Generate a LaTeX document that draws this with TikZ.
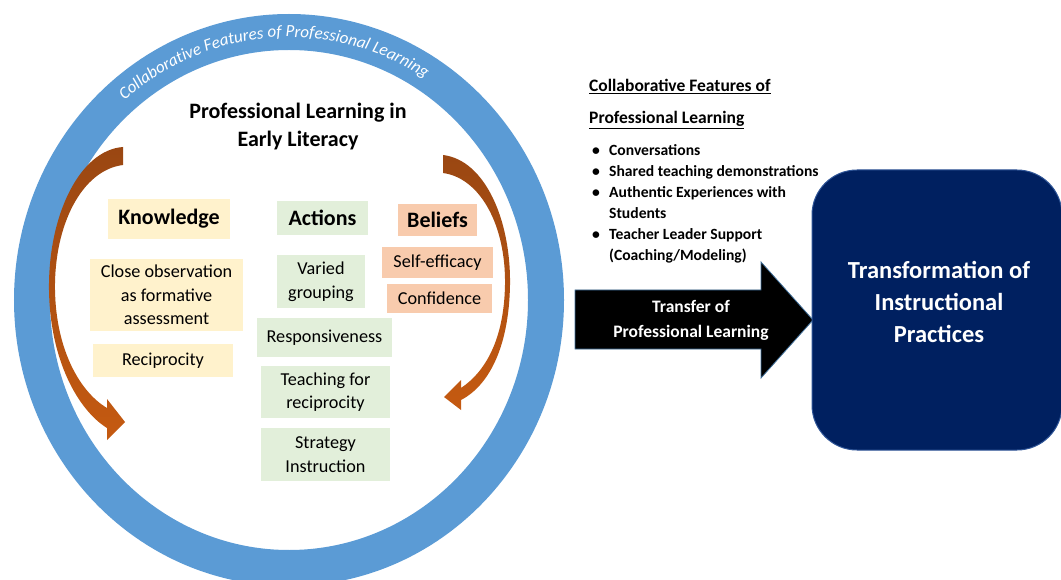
\documentclass[tikz,border=0pt]{standalone}
\usepackage{fontspec}
\setmainfont{Carlito}
\usetikzlibrary{positioning,decorations.text}

\definecolor{ringblue}{HTML}{5B9BD5}
\definecolor{knowfill}{HTML}{FFF2CC}
\definecolor{actfill}{HTML}{E2EFDA}
\definecolor{belfill}{HTML}{F8CBAD}
\definecolor{arrowtop}{HTML}{9A4712}
\definecolor{arrowbot}{HTML}{C55A11}
\definecolor{navy}{HTML}{002060}
\definecolor{navyedge}{HTML}{2F5597}
\definecolor{arrowedge}{HTML}{41719C}

\begin{document}
\begin{tikzpicture}[x=1pt, y=1pt,
  box/.style = {shape = rectangle, inner sep = 0pt, align = center, font = \fontsize{18.2}{23.5}\selectfont},
  headbox/.style = {box, font = \bfseries\fontsize{22}{24}\selectfont},
  know/.style = {fill = knowfill},
  act/.style = {fill = actfill},
  bel/.style = {fill = belfill},
  bend arrow/.style = {top color = arrowtop, bottom color = arrowbot},
  listline/.style = {anchor = base west, inner sep = 0pt, font = \bfseries\fontsize{15.6}{16}\selectfont}]
\useasboundingbox (0,0) rectangle (1061,-580);
\clip (0,0) rectangle (1061,-580);

% outer ring
\draw[ringblue, line width = 36] (289,-300) ellipse [x radius = 257, y radius = 268];
\path[decorate, decoration = {text along path, text align = center, text color = white,
  text = {|\itshape\fontsize{17}{17}\selectfont|Collaborative Features of Professional Learning}}]
  (289,-300) ++(140:252 and 263) arc[start angle = 140, end angle = 48, x radius = 252, y radius = 263];

\node[font = \bfseries\fontsize{22}{28}\selectfont, align = center] (title) at (298,-127) {Professional Learning in\\Early Literacy};

% curved arrows
\shade[bend arrow] (123,-147) .. controls (80,-150) and (48,-215) .. (49,-290)
  .. controls (50,-360) and (78,-410) .. (107,-428) -- (107,-440) -- (125,-422) -- (107,-399) -- (107,-408)
  .. controls (80,-392) and (56,-350) .. (55,-290) .. controls (54,-225) and (82,-170) .. (123,-165) -- cycle;
\shade[bend arrow] (443,-155) .. controls (485,-160) and (511,-220) .. (510,-285)
  .. controls (509,-345) and (490,-385) .. (461,-400) -- (461,-410) -- (444,-397) -- (461,-380) -- (461,-388)
  .. controls (485,-372) and (504,-340) .. (505,-285) .. controls (506,-225) and (480,-178) .. (443,-173) -- cycle;

% knowledge
\node[headbox, know, minimum width = 122, minimum height = 40] (k) at (169,-219) {Knowledge};
\node[box, know, minimum width = 153, minimum height = 72] (k1) at (166.5,-295) {Close observation\\as formative\\assessment};
\node[box, know, minimum width = 140, minimum height = 33] (k2) at (163,-360.5) {Reciprocity};

% actions
\node[headbox, act, minimum width = 91, minimum height = 34] (a) at (322.5,-218) {Actions};
\node[box, act, minimum width = 88, minimum height = 53] (a1) at (321,-281.5) {Varied\\grouping};
\node[box, act, minimum width = 135, minimum height = 39] (a2) at (324.5,-337.5) {Responsiveness};
\node[box, act, minimum width = 129, minimum height = 52] (a3) at (325.5,-392) {Teaching for\\reciprocity};
\node[box, act, minimum width = 129, minimum height = 53, below = 10 of a3] (a4) {Strategy\\Instruction};

% beliefs
\node[headbox, bel, minimum width = 79, minimum height = 32] (b) at (437.5,-220) {Beliefs};
\node[box, bel, minimum width = 111, minimum height = 31] (b1) at (437.5,-262.5) {Self-efficacy};
\node[box, bel, minimum width = 105, minimum height = 29] (b2) at (439.5,-298.5) {Confidence};

% list of features
\node[listline, font = \bfseries\fontsize{17.5}{18}\selectfont] (h1) at (589,-92) {\underline{Collaborative Features of}};
\node[listline, font = \bfseries\fontsize{17.5}{18}\selectfont] (h2) at (589,-124) {\underline{Professional Learning}};
\foreach \txt [count = \i] in {Conversations, Shared teaching demonstrations, Authentic Experiences with, Students, Teacher Leader Support, (Coaching/Modeling)}
  \node[listline] (f\i) at (609,{-135-21*\i}) {\txt};
\foreach \i in {1,2,3,5}
  \node[listline, anchor = base] (d\i) at ([xshift = -13]f\i.base west) {\textbullet};

% transfer arrow
\draw[fill = black, draw = arrowedge, line width = 0.8] (575,-290) -- (761,-290) -- (761,-262) -- (813,-320)
  -- (761,-378) -- (761,-349) -- (575,-349) -- cycle;
\node[white, font = \bfseries\fontsize{17.5}{25}\selectfont, align = center] (tp) at (691,-320) {Transfer of\\Professional Learning};

% transformation box
\node[draw = navyedge, fill = navy, rounded corners = 45, line width = 1, minimum width = 250, minimum height = 280] (tb) at (937,-310) {};
\node[white, font = \bfseries\fontsize{24.5}{32}\selectfont, align = center] (tt) at (939,-302) {Transformation of\\Instructional\\Practices};
\end{tikzpicture}
\end{document}
